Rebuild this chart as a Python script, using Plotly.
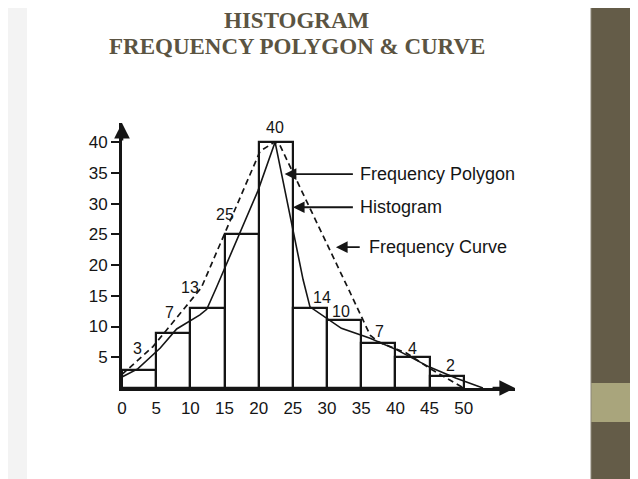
import plotly.graph_objects as go

# histogram classes (marks) and bar heights as drawn
class_mid = [2.5, 7.5, 12.5, 17.5, 22.5, 27.5, 32.5, 37.5, 42.5, 47.5]
bar_height = [3, 9, 13, 25, 40, 13, 11, 7.3, 5, 2]
bar_label = ['3', '7', '13', '25', '40', '14', '10', '7', '4', '2']

# frequency polygon (solid line)
poly_x = [0, 2.3, 5.6, 8.0, 11.4, 12.4, 13.8, 19.9, 22.4, 26.5, 27.5, 29.7, 32.1, 36.3, 40.2, 45, 48.9, 52.8]
poly_y = [1.8, 3.1, 6.5, 9.6, 11.9, 12.8, 16.3, 32.1, 40, 17.6, 13.2, 11.5, 9.7, 8.1, 6.2, 3.4, 1.6, 0]

# frequency curve (dashed line)
curve_x = [0, 4.5, 11.6, 20.2, 22.3, 23.1, 33.3, 36.3, 37.5, 41.6, 45, 50]
curve_y = [2.2, 6.7, 16.3, 38.5, 40, 39.5, 15.7, 8.6, 7.5, 5.7, 3.2, 0]

x_ticks = [0, 5, 10, 15, 20, 25, 30, 35, 40, 45, 50]
y_ticks = [5, 10, 15, 20, 25, 30, 35, 40]

FONT = 'Liberation Sans, Arial, sans-serif'
INK = '#151515'

# the page body has an 8px margin, so the figure starts at (8, 8) of the window
OFF = 8
W, H = 638 - OFF, 479 - OFF
L, T = 122 - OFF, 123 - OFF          # x=0 at page x 122, top of y axis at page y 123
R, B = W - (515 - OFF), H - (388 - OFF)
PW, PH = W - L - R, H - T - B


def px(x):
    # page x pixel -> paper fraction
    return (x - OFF - L) / PW


def py(y):
    # page y pixel -> paper fraction
    return (H - B - (y - OFF)) / PH


fig = go.Figure()

fig.add_trace(go.Bar(
    x=class_mid, y=bar_height, width=5,
    marker=dict(color='white', line=dict(color=INK, width=2.2)),
    hoverinfo='skip',
))
fig.add_trace(go.Scatter(
    x=poly_x, y=poly_y, mode='lines',
    line=dict(color=INK, width=1.6),
))
fig.add_trace(go.Scatter(
    x=curve_x, y=curve_y, mode='lines',
    line=dict(color=INK, width=1.7, dash='6px,4px'),
))

# value labels near the bars
label_pos = [(2.3, 6.5), (7, 12.2), (10, 16.4), (15, 28.3), (22.4, 42.3),
             (29.2, 14.8), (32.1, 12.4), (37.7, 9.2), (42.5, 6.5), (48, 3.7)]
for txt, (lx, ly) in zip(bar_label, label_pos):
    fig.add_annotation(x=lx, y=ly, text=txt, showarrow=False,
                       font=dict(family=FONT, size=16, color=INK))

# pointer labels
pointers = [
    ('Frequency Polygon', 23.8, 34.0, 34.6, 34.8),
    ('Histogram', 25.0, 34.0, 34.6, 29.4),
    ('Frequency Curve', 31.3, 35.0, 35.8, 22.9),
]
for txt, tip, tail, tx, ty in pointers:
    fig.add_annotation(x=tip, y=ty, ax=tail, ay=ty, axref='x', ayref='y',
                       text='', showarrow=True, arrowhead=2, arrowsize=1.3,
                       arrowwidth=1.8, arrowcolor=INK, standoff=0)
    fig.add_annotation(x=tx, y=ty, text=txt, showarrow=False, xanchor='left',
                       font=dict(family=FONT, size=18, color=INK))

# axis arrows and names
fig.add_annotation(x=57.5, y=0, ax=54, ay=0, axref='x', ayref='y', text='',
                   showarrow=True, arrowhead=2, arrowsize=1.2, arrowwidth=2.6,
                   arrowcolor=INK, standoff=0)
fig.add_annotation(x=0, y=43.1, ax=0, ay=40, axref='x', ayref='y', text='',
                   showarrow=True, arrowhead=2, arrowsize=1.2, arrowwidth=2.6,
                   arrowcolor=INK, standoff=0)
fig.add_annotation(x=59.2, y=0, text='X', showarrow=False,
                   font=dict(family=FONT, size=18, color=INK))
fig.add_annotation(x=0, y=45.4, text='Y', showarrow=False,
                   font=dict(family=FONT, size=16, color=INK))
fig.add_annotation(x=26.5, y=-5.2, text='Marks', showarrow=False,
                   font=dict(family=FONT, size=17, color=INK))
fig.add_annotation(x=-7.2, y=20.8, text='Number of Students', showarrow=False,
                   textangle=-90, font=dict(family=FONT, size=18, color=INK))

# slide title (kept just inside the top of the figure)
TITLE_FONT = dict(family='Liberation Serif, Times New Roman, serif', size=23, color='#5b5442')
fig.add_annotation(xref='paper', yref='paper', x=px(297), y=py(20), text='<b>HISTOGRAM</b>',
                   showarrow=False, yanchor='middle', font=TITLE_FONT)
fig.add_annotation(xref='paper', yref='paper', x=px(297), y=py(46),
                   text='<b>FREQUENCY POLYGON &amp; CURVE</b>',
                   showarrow=False, yanchor='middle', font=TITLE_FONT)

# slide decoration: right band and faint left shade
shapes = [
    dict(type='rect', xref='paper', yref='paper', x0=px(OFF), x1=px(27), y0=py(479), y1=py(OFF),
         fillcolor='#f3f3f3', line_width=0, layer='below'),
    dict(type='rect', xref='paper', yref='paper', x0=px(591), x1=px(638), y0=py(479), y1=py(OFF),
         fillcolor='#645c48', line_width=0),
    dict(type='rect', xref='paper', yref='paper', x0=px(591), x1=px(638), y0=py(422), y1=py(383),
         fillcolor='#a9a57c', line_width=0),
    dict(type='line', xref='paper', yref='paper', x0=px(591), x1=px(591), y0=py(479), y1=py(OFF),
         line=dict(color='#8c8778', width=1)),
]

fig.update_layout(
    width=W, height=H,
    margin=dict(l=L, r=R, t=T, b=B),
    paper_bgcolor='white', plot_bgcolor='white',
    showlegend=False, bargap=0,
    shapes=shapes,
    xaxis=dict(range=[0, 57.5], tickvals=x_ticks, ticks='', showgrid=False, zeroline=False,
               showline=True, linecolor=INK, linewidth=2.8, ticklabelstandoff=3,
               tickfont=dict(family=FONT, size=17, color=INK)),
    yaxis=dict(range=[0, 43.1], tickvals=y_ticks, ticks='outside', ticklen=8, tickwidth=2,
               tickcolor=INK, showgrid=False, zeroline=False,
               showline=True, linecolor=INK, linewidth=2.8,
               tickfont=dict(family=FONT, size=17, color=INK)),
)

fig.write_html('out.html')
